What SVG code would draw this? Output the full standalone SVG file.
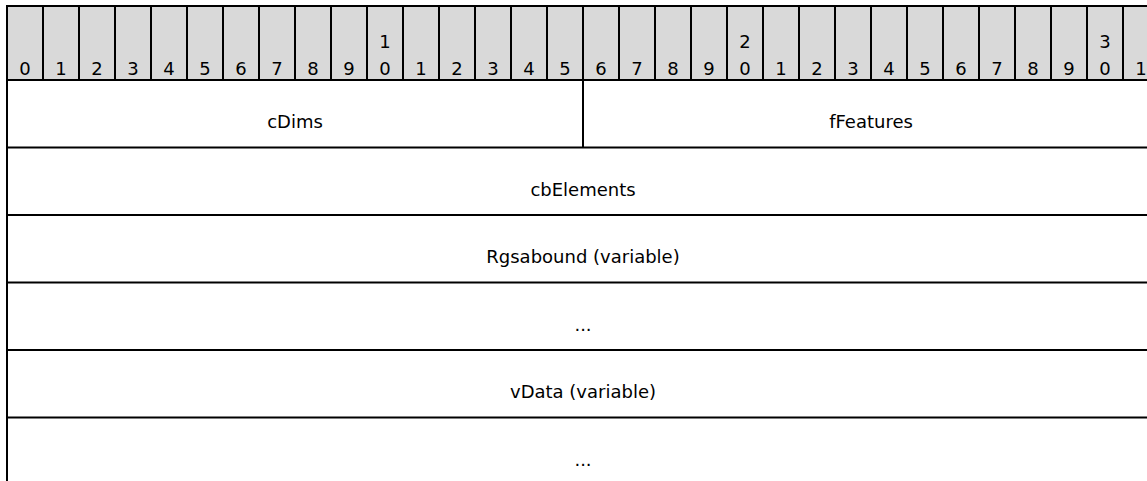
<svg xmlns="http://www.w3.org/2000/svg" width="1147" height="481" viewBox="0 0 1147 481">
<style>
.ln{stroke:#000;stroke-width:2;fill:none}
.hd{fill:#d9d9d9}
text{font-family:"DejaVu Sans","Verdana",sans-serif;font-size:18px;fill:#000;text-anchor:middle}
</style>
<rect class="hd" x="7" y="6" width="1152" height="74"/>
<g id="header">
<text x="25" y="75">0</text><text x="61" y="75">1</text><text x="97" y="75">2</text><text x="133" y="75">3</text>
<text x="169" y="75">4</text><text x="205" y="75">5</text><text x="241" y="75">6</text><text x="277" y="75">7</text>
<text x="313" y="75">8</text><text x="349" y="75">9</text>
<text x="385" y="48">1</text><text x="385" y="75">0</text>
<text x="421" y="75">1</text><text x="457" y="75">2</text><text x="493" y="75">3</text><text x="529" y="75">4</text>
<text x="565" y="75">5</text><text x="601" y="75">6</text><text x="637" y="75">7</text><text x="673" y="75">8</text>
<text x="709" y="75">9</text>
<text x="745" y="48">2</text><text x="745" y="75">0</text>
<text x="781" y="75">1</text><text x="817" y="75">2</text><text x="853" y="75">3</text><text x="889" y="75">4</text>
<text x="925" y="75">5</text><text x="961" y="75">6</text><text x="997" y="75">7</text><text x="1033" y="75">8</text>
<text x="1069" y="75">9</text>
<text x="1105" y="48">3</text><text x="1105" y="75">0</text>
<text x="1141" y="75">1</text>
<path class="ln" d="M43 6V80M79 6V80M115 6V80M151 6V80M187 6V80M223 6V80M259 6V80M295 6V80M331 6V80M367 6V80M403 6V80M439 6V80M475 6V80M511 6V80M547 6V80M583 6V80M619 6V80M655 6V80M691 6V80M727 6V80M763 6V80M799 6V80M835 6V80M871 6V80M907 6V80M943 6V80M979 6V80M1015 6V80M1051 6V80M1087 6V80M1123 6V80"/>
</g>
<g id="connectors">
<path class="ln" d="M6 6H1159M7 6V481M6 80H1159M6 147.5H1159M6 215H1159M6 282.5H1159M6 350H1159M6 417.5H1159M583 80V147.5"/>
</g>
<g id="cDims"><text x="295" y="128">cDims</text></g>
<g id="fFeatures"><text x="871" y="128">fFeatures</text></g>
<g id="cbElements"><text x="583" y="195.5">cbElements</text></g>
<g id="Rgsabound"><text x="583" y="263">Rgsabound (variable)</text></g>
<g id="ellipsis1"><text x="583" y="330.5">...</text></g>
<g id="vData"><text x="583" y="398">vData (variable)</text></g>
<g id="ellipsis2"><text x="583" y="465.5">...</text></g>
</svg>
